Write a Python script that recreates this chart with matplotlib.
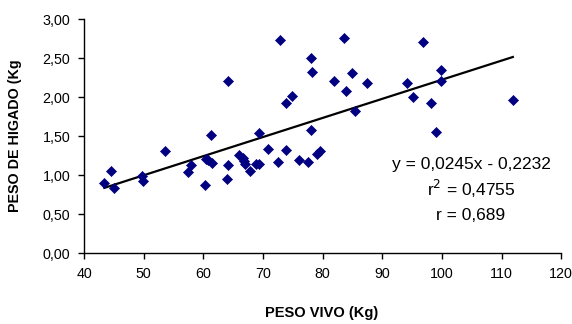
import matplotlib
matplotlib.use("Agg")
import matplotlib.pyplot as plt
import numpy as np

plt.rcParams['font.family'] = ['Liberation Sans', 'DejaVu Sans']

peso_vivo = [43.4, 44.5, 45.0, 49.7, 49.8, 53.5, 57.4, 57.9, 60.2, 60.4, 60.7,
             61.2, 61.4, 63.9, 64.2, 64.2, 66.0, 66.6, 66.9, 67.0, 67.9, 68.9,
             69.3, 69.4, 70.9, 72.6, 72.9, 73.8, 73.8, 74.9, 76.0, 77.5, 78.0,
             78.0, 78.2, 79.0, 79.5, 81.9, 83.6, 84.0, 85.0, 85.4, 87.4, 94.1,
             95.1, 96.8, 98.1, 99.0, 99.9, 99.9, 111.9]
peso_higado = [0.90, 1.06, 0.84, 0.99, 0.93, 1.31, 1.04, 1.13, 0.88, 1.21, 1.20,
               1.52, 1.16, 0.95, 1.13, 2.21, 1.26, 1.22, 1.18, 1.14, 1.06, 1.15,
               1.15, 1.55, 1.34, 1.17, 2.73, 1.32, 1.93, 2.02, 1.20, 1.17, 1.58,
               2.51, 2.32, 1.28, 1.31, 2.21, 2.76, 2.08, 2.31, 1.82, 2.18, 2.18,
               2.00, 2.71, 1.93, 1.56, 2.35, 2.21, 1.97]
slope = 0.0245
intercept = -0.2232
x_ticks = [40, 50, 60, 70, 80, 90, 100, 110, 120]
y_ticks = [0.0, 0.5, 1.0, 1.5, 2.0, 2.5, 3.0]
y_tick_labels = ["0,00", "0,50", "1,00", "1,50", "2,00", "2,50", "3,00"]
eq_lines = ["y = 0,0245x - 0,2232", "r$^2$ = 0,4755", "r = 0,689"]

fig = plt.figure(figsize=(5.72, 3.24), dpi=100)
ax = fig.add_axes([0.147, 0.218, 0.834, 0.722])

ax.scatter(peso_vivo, peso_higado, marker='D', s=26, color='#000080',
           edgecolors='#000080', linewidths=0.5, zorder=3)
xl = np.array([min(peso_vivo), max(peso_vivo)])
ax.plot(xl, slope * xl + intercept, color='black', linewidth=1.6, zorder=2)

ax.set_xlim(40, 120)
ax.set_ylim(0, 3)
ax.set_xticks(x_ticks)
ax.set_xticklabels([str(v) for v in x_ticks])
ax.set_yticks(y_ticks)
ax.set_yticklabels(y_tick_labels)
ax.tick_params(direction='out', length=4, width=1, labelsize=10.3, pad=6)
for s in ['top', 'right']:
    ax.spines[s].set_visible(False)
for s in ['left', 'bottom']:
    ax.spines[s].set_linewidth(1)

fig.text(0.562, 0.035, "PESO VIVO (Kg)", fontsize=10.5, fontweight='bold',
         ha='center', va='center')
fig.text(0.027, 0.58, "PESO DE HIGADO (Kg", fontsize=10.3, fontweight='bold',
         ha='center', va='center', rotation=90)

ys = [164, 189, 216]
for t, yp in zip(eq_lines, ys):
    fig.text(471 / 572, 1 - yp / 324, t, fontsize=12.5, ha='center', va='center')

fig.savefig("out.png", dpi=100)
